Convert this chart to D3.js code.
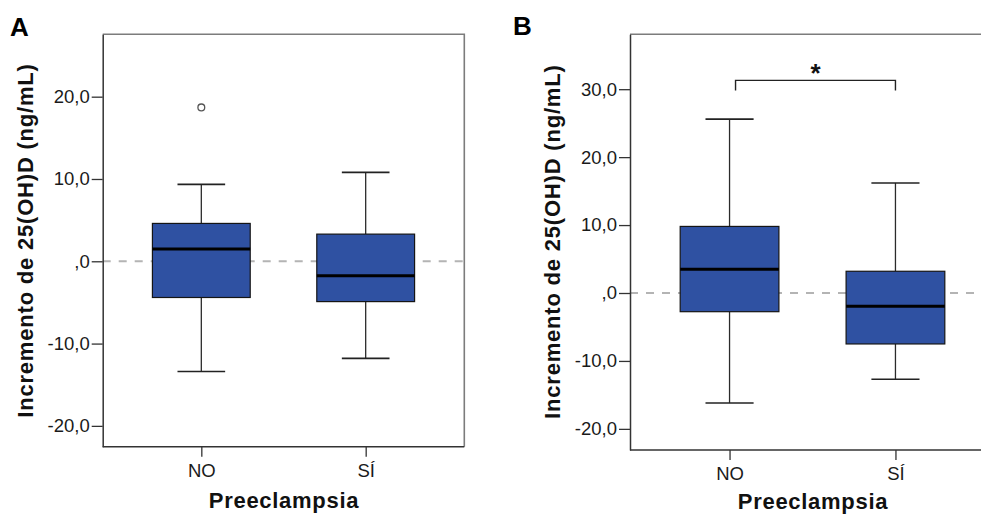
<!DOCTYPE html>
<html>
<head>
<meta charset="utf-8">
<script src="https://cdn.jsdelivr.net/npm/d3@7"></script>
<style>
  body { margin: 0; background: #fff; }
  svg { display: block; font-family: "Liberation Sans", Arial, sans-serif; }
</style>
</head>
<body>
<div id="canvas"></div>
<script>
// categories on the x axis
const groups = ["NO", "SÍ"];

// five-number summaries per group: [low whisker, q1, median, q3, high whisker]
const panelA = [
  [-13.4, -4.4, 1.5, 4.6, 9.35],
  [-11.8, -4.9, -1.75, 3.3, 10.8]
];
const outliersA = [{ group: "NO", value: 18.7 }];

const panelB = [
  [-16.2, -2.75, 3.5, 9.8, 25.6],
  [-12.7, -7.5, -1.95, 3.2, 16.2]
];
const outliersB = [];

const ticksA = [-20, -10, 0, 10, 20];
const ticksB = [-20, -10, 0, 10, 20, 30];

// significance bracket in panel B
const bracketB = { from: "NO", to: "SÍ", top: 31.3, foot: 29.8, label: "*" };

const W = 981, H = 515;
const svg = d3.select("#canvas").append("svg")
  .attr("width", W)
  .attr("height", H);

const fmt = d => d === 0 ? ",0" : d.toFixed(1).replace(".", ",");

function drawPanel(opt) {
  const { left, right, top, bottom, domain, ticks, stats, outliers, letter, letterPos, yLabelPos, xTitlePos } = opt;

  const x = d3.scalePoint()
    .domain(groups)
    .range([left, right])
    .padding(0.6);

  const y = d3.scaleLinear()
    .domain(domain)
    .range([bottom, top]);

  const step = x.step();
  const boxW = step * 0.595;
  const capW = step * 0.29;

  const g = svg.append("g");

  // frame
  g.append("path")
    .attr("d", `M${left},${top}H${Math.min(right, W + 5)}V${bottom}`)
    .attr("fill", "none")
    .attr("stroke", "#7c7c7c")
    .attr("stroke-width", 1.6);

  // zero reference line
  g.append("line")
    .attr("x1", left).attr("x2", right)
    .attr("y1", y(0)).attr("y2", y(0))
    .attr("stroke", "#b4b4b4")
    .attr("stroke-width", 2)
    .attr("stroke-dasharray", "8,8");

  const boxes = g.selectAll("g.box")
    .data(stats.map((s, i) => ({ group: groups[i], s })))
    .join("g")
    .attr("class", "box");

  // whiskers
  boxes.append("line")
    .attr("x1", d => x(d.group)).attr("x2", d => x(d.group))
    .attr("y1", d => y(d.s[0])).attr("y2", d => y(d.s[1]))
    .attr("stroke", "#2b2b2b").attr("stroke-width", 1.3);
  boxes.append("line")
    .attr("x1", d => x(d.group)).attr("x2", d => x(d.group))
    .attr("y1", d => y(d.s[3])).attr("y2", d => y(d.s[4]))
    .attr("stroke", "#2b2b2b").attr("stroke-width", 1.3);
  [0, 4].forEach(k => {
    boxes.append("line")
      .attr("x1", d => x(d.group) - capW / 2).attr("x2", d => x(d.group) + capW / 2)
      .attr("y1", d => y(d.s[k])).attr("y2", d => y(d.s[k]))
      .attr("stroke", "#222").attr("stroke-width", 1.6);
  });

  // box
  boxes.append("rect")
    .attr("x", d => x(d.group) - boxW / 2)
    .attr("width", boxW)
    .attr("y", d => y(d.s[3]))
    .attr("height", d => y(d.s[1]) - y(d.s[3]))
    .attr("fill", "#2f51a2")
    .attr("stroke", "#151515")
    .attr("stroke-width", 1.2);

  // median
  boxes.append("line")
    .attr("x1", d => x(d.group) - boxW / 2).attr("x2", d => x(d.group) + boxW / 2)
    .attr("y1", d => y(d.s[2])).attr("y2", d => y(d.s[2]))
    .attr("stroke", "#000").attr("stroke-width", 3);

  // outliers
  g.selectAll("circle.out")
    .data(outliers)
    .join("circle")
    .attr("class", "out")
    .attr("cx", d => x(d.group))
    .attr("cy", d => y(d.value))
    .attr("r", 3.4)
    .attr("fill", "#fff")
    .attr("stroke", "#555")
    .attr("stroke-width", 1.3);

  // axes
  const ya = g.append("g")
    .attr("transform", `translate(${left},0)`)
    .call(d3.axisLeft(y).tickValues(ticks).tickFormat(fmt).tickSize(11).tickSizeOuter(0).tickPadding(2));
  const xa = g.append("g")
    .attr("transform", `translate(0,${bottom})`)
    .call(d3.axisBottom(x).tickSize(10).tickSizeOuter(0).tickPadding(7));

  [ya, xa].forEach(a => {
    a.select(".domain").attr("stroke", "#333").attr("stroke-width", 1.5);
    a.selectAll(".tick line").attr("stroke", "#333").attr("stroke-width", 1.3);
    a.selectAll(".tick text")
      .attr("fill", "#1a1a1a")
      .style("font-size", "18.5px")
      .style("font-family", "'Liberation Sans', Arial, sans-serif");
  });
  xa.select(".domain").attr("d", `M${left},0H${Math.min(right, W + 5)}`);

  // titles
  svg.append("text")
    .attr("transform", `translate(${yLabelPos[0]},${yLabelPos[1]}) rotate(-90)`)
    .attr("text-anchor", "middle")
    .style("font-size", "22px")
    .style("font-weight", "bold")
    .style("letter-spacing", "0.8px")
    .attr("fill", "#111")
    .text("Incremento de 25(OH)D (ng/mL)");

  svg.append("text")
    .attr("x", xTitlePos[0])
    .attr("y", xTitlePos[1])
    .attr("text-anchor", "middle")
    .style("font-size", "22px")
    .style("font-weight", "bold")
    .style("letter-spacing", "0.7px")
    .attr("fill", "#111")
    .text("Preeclampsia");

  svg.append("text")
    .attr("x", letterPos[0])
    .attr("y", letterPos[1])
    .style("font-size", "26px")
    .style("font-weight", "bold")
    .attr("fill", "#000")
    .text(letter);

  return { x, y };
}

drawPanel({
  left: 102.7, right: 464.3, top: 34.3, bottom: 446.7,
  domain: [-22.53, 27.58], ticks: ticksA, stats: panelA, outliers: outliersA,
  letter: "A", letterPos: [10, 35.5],
  yLabelPos: [33, 240.5], xTitlePos: [284, 507.5]
});

const pb = drawPanel({
  left: 630, right: 995, top: 34.3, bottom: 450,
  domain: [-23.11, 38.08], ticks: ticksB, stats: panelB, outliers: outliersB,
  letter: "B", letterPos: [513, 34.5],
  yLabelPos: [560, 241.7], xTitlePos: [813, 509]
});

// significance bracket
const bx1 = pb.x(bracketB.from) + 6;
const bx2 = pb.x(bracketB.to);
svg.append("path")
  .attr("d", `M${bx1},${pb.y(bracketB.foot)}V${pb.y(bracketB.top)}H${bx2}V${pb.y(bracketB.foot)}`)
  .attr("fill", "none")
  .attr("stroke", "#222")
  .attr("stroke-width", 1.4);
svg.append("text")
  .attr("x", (bx1 + bx2) / 2)
  .attr("y", pb.y(bracketB.top) + 2)
  .attr("text-anchor", "middle")
  .style("font-size", "26px")
  .style("font-weight", "bold")
  .attr("fill", "#111")
  .text(bracketB.label);
</script>
</body>
</html>
